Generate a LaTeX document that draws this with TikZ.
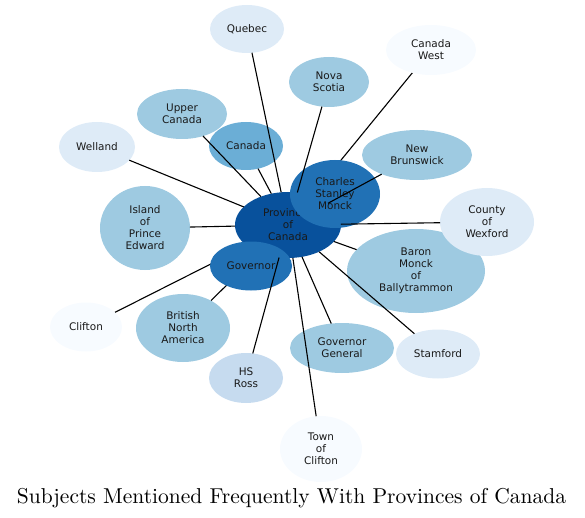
\documentclass[tikz,border=0pt]{standalone}
\usepackage{fontspec}
\usepackage{tikz}
\usetikzlibrary{shapes.geometric}
\newfontfamily\subjectfamily{DejaVu Sans}
\newfontfamily\captionfamily{lmroman10-regular.otf}
\newcommand{\subjectfont}{\subjectfamily\fontsize{10.5}{12}\selectfont}
\newcommand{\captionfont}{\captionfamily\fontsize{21.6}{25}\selectfont}
\definecolor{blueI}{HTML}{08519C}
\definecolor{blueII}{HTML}{2171B5}
\definecolor{blueIII}{HTML}{6BAED6}
\definecolor{blueIV}{HTML}{9ECAE1}
\definecolor{blueV}{HTML}{C6DBEF}
\definecolor{blueVI}{HTML}{DEEBF7}
\definecolor{blueVII}{HTML}{F7FBFF}
\pgfdeclarelayer{background}
\pgfsetlayers{background,main}
% Size of an ellipse from its two radii.
\tikzset{radii/.style 2 args={minimum width=2*#1 bp, minimum height=2*#2 bp}}
\tikzstyle{subject}=[ellipse, inner sep=0, outer sep=0, align=center, text=black!90, font=\subjectfont]
\tikzstyle{hsubject}=[subject, fill=blueI]
\tikzstyle{dsubject}=[subject, fill=blueII]
\tikzstyle{msubject}=[subject, fill=blueIII]
\tikzstyle{lsubject}=[subject, fill=blueIV]
\tikzstyle{psubject}=[subject, fill=blueV]
\tikzstyle{fsubject}=[subject, fill=blueVI]
\tikzstyle{wsubject}=[subject, fill=blueVII]
\tikzstyle{link}=[draw=black, line width=1.1bp]
\tikzstyle{subjectnetwork}=[x=1bp, y=-1bp]
\begin{document}
\begin{tikzpicture}[subjectnetwork]
        \useasboundingbox (0, 0) rectangle (585, 518);
        \node[fsubject, radii={37}{24}] (quebec) at (247, 29) {Quebec};
        \node[wsubject, radii={45}{25}] (cwest) at (431, 50) {Canada\\West};
        \node[lsubject, radii={40}{25}] (nova) at (329, 82) {Nova\\Scotia};
        \node[lsubject, radii={45}{25}] (upper) at (182, 114) {Upper\\Canada};
        \node[msubject, radii={37}{24}] (canada) at (246, 146) {Canada};
        \node[fsubject, radii={38}{25}] (welland) at (97, 147) {Welland};
        \node[lsubject, radii={55}{25}] (newb) at (417, 155) {New\\Brunswick};
        \node[lsubject, radii={45}{42}] (ipe) at (145, 228) {Island\\of\\Prince\\Edward};
        \node[lsubject, radii={69}{42}] (baron) at (416, 271) {Baron\\Monck\\of\\Ballytrammon};
        \node[fsubject, radii={47}{34}] (wexford) at (487, 222) {County\\of\\Wexford};
        \node[wsubject, radii={36}{24.5}] (clifton) at (86, 327) {Clifton};
        \node[lsubject, radii={47}{34}] (bna) at (183, 328) {British\\North\\America};
        \node[lsubject, radii={52}{25}] (gg) at (342, 348) {Governor\\General};
        \node[fsubject, radii={42}{24.5}] (stamford) at (438, 354) {Stamford};
        \node[psubject, radii={37}{25}] (hsross) at (246, 378) {HS\\Ross};
        \node[wsubject, radii={41}{33}] (town) at (321, 449) {Town\\of\\Clifton};
        \node[hsubject, radii={53}{33}] (hub) at (288, 225) {Provinces\\of\\Canada};
        \node[dsubject, radii={45}{34}] (monck) at (335, 194) {Charles\\Stanley\\Monck};
        \node[dsubject, radii={41}{24.5}] (governor) at (251, 266) {Governor};
        % These run under Monck and the Governor.
        \begin{pgfonlayer}{background}
            \draw[link] (hub) -- (cwest);
            \draw[link] (hub) -- (clifton);
            \draw[link] (hub) -- (bna);
        \end{pgfonlayer}
        \draw[link] (hub) -- (quebec);
        \draw[link] (hub) -- (nova);
        \draw[link] (hub) -- (upper);
        \draw[link] (hub) -- (canada);
        \draw[link] (hub) -- (welland);
        \draw[link] (hub) -- (newb);
        \draw[link] (hub) -- (ipe);
        \draw[link] (hub) -- (wexford);
        \draw[link] (hub) -- (baron);
        \draw[link] (hub) -- (stamford);
        \draw[link] (hub) -- (gg);
        \draw[link] (hub) -- (town);
        \draw[link] (hub) -- (hsross);
        \node[anchor=base, font=\captionfont] (caption) at (291.5, 503) {Subjects Mentioned Frequently With Provinces of Canada};
    \end{tikzpicture}
\end{document}
